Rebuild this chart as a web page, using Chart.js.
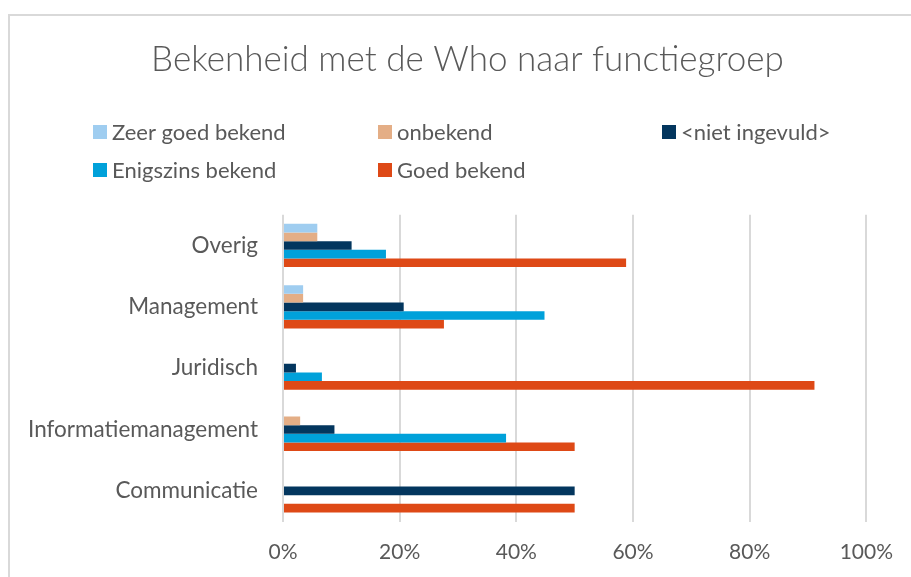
<!DOCTYPE html>
<html>
<head>
<meta charset="utf-8">
<script src="https://cdn.jsdelivr.net/npm/chart.js@4"></script>
<style>
html,body{margin:0;padding:0;background:#fff;}
#wrap{width:911px;height:577px;position:relative;}
</style>
</head>
<body>
<div id="wrap"><canvas id="c" width="911" height="577"></canvas></div>
<script>
const categories = ['Overig', 'Management', 'Juridisch', 'Informatiemanagement', 'Communicatie'];
const seriesNames = ['Zeer goed bekend', 'onbekend', '<niet ingevuld>', 'Enigszins bekend', 'Goed bekend'];
const seriesColors = ['#9FCDF0', '#E4AE86', '#03365E', '#00A1DA', '#DE4916'];
const zeerGoedBekend = [5.88, 3.45, 0, 0, 0];
const onbekend = [5.88, 3.45, 0, 2.94, 0];
const nietIngevuld = [11.76, 20.69, 2.22, 8.82, 50];
const enigszinsBekend = [17.65, 44.83, 6.67, 38.24, 0];
const goedBekend = [58.82, 27.59, 91.11, 50.0, 50];
const tickValues = [0, 20, 40, 60, 80, 100];
const titleText = 'Bekenheid met de Who naar functiegroep';

const seriesValues = [zeerGoedBekend, onbekend, nietIngevuld, enigszinsBekend, goedBekend];
const TEXT = '#595959';
const FONT = 'Lato';

const frame = {
  id: 'frame',
  beforeDraw(chart) {
    const ctx = chart.ctx;
    ctx.save();
    ctx.fillStyle = '#fff';
    ctx.fillRect(0, 0, chart.width, chart.height);
    ctx.strokeStyle = '#D9D9D9';
    ctx.lineWidth = 2;
    ctx.strokeRect(9, 15, 1200, 1200);
    ctx.restore();
  }
};

const headerAndLegend = {
  id: 'headerAndLegend',
  afterDraw(chart) {
    const ctx = chart.ctx;
    ctx.save();
    // title
    ctx.font = '300 35px ' + FONT;
    ctx.fillStyle = TEXT;
    ctx.textAlign = 'center';
    ctx.textBaseline = 'middle';
    ctx.fillText(titleText, 467.5, 60);
    // legend in a 3-column grid
    const cols = [93, 378, 662];
    const rows = [132, 170];
    ctx.font = '22px ' + FONT;
    ctx.textAlign = 'left';
    chart.data.datasets.forEach((ds, i) => {
      const x = cols[i % 3];
      const y = rows[Math.floor(i / 3)];
      ctx.fillStyle = ds.backgroundColor;
      ctx.fillRect(x, y - 7, 14, 14);
      ctx.fillStyle = TEXT;
      ctx.fillText(ds.label, x + 19, y + 1);
    });
    ctx.restore();
  }
};

new Chart(document.getElementById('c'), {
  type: 'bar',
  data: {
    labels: categories,
    datasets: seriesNames.map((n, i) => ({
      label: n,
      data: seriesValues[i],
      backgroundColor: seriesColors[i],
      borderWidth: 0,
      categoryPercentage: 0.705,
      barPercentage: 1.0
    }))
  },
  options: {
    indexAxis: 'y',
    responsive: false,
    animation: false,
    devicePixelRatio: 1,
    layout: { padding: { left: 0, right: 41, top: 214.8, bottom: 0 } },
    plugins: {
      legend: { display: false },
      tooltip: { enabled: false },
      title: { display: false }
    },
    scales: {
      x: {
        min: 0, max: 100,
        afterBuildTicks(scale) { scale.ticks = tickValues.map(v => ({ value: v })); },
        ticks: {
          callback: v => v + '%',
          color: TEXT,
          font: { family: FONT, size: 21 },
          padding: 18
        },
        grid: { color: '#D9D9D9', lineWidth: 2, drawTicks: false },
        border: { display: false },
        afterFit(scale) { scale.height = 55.5; }
      },
      y: {
        ticks: {
          color: TEXT,
          font: { family: FONT, size: 22.5 },
          padding: 25
        },
        grid: { display: false, drawTicks: false },
        border: { display: false },
        afterFit(scale) { scale.width = 283; }
      }
    }
  },
  plugins: [frame, headerAndLegend]
});
</script>
</body>
</html>
